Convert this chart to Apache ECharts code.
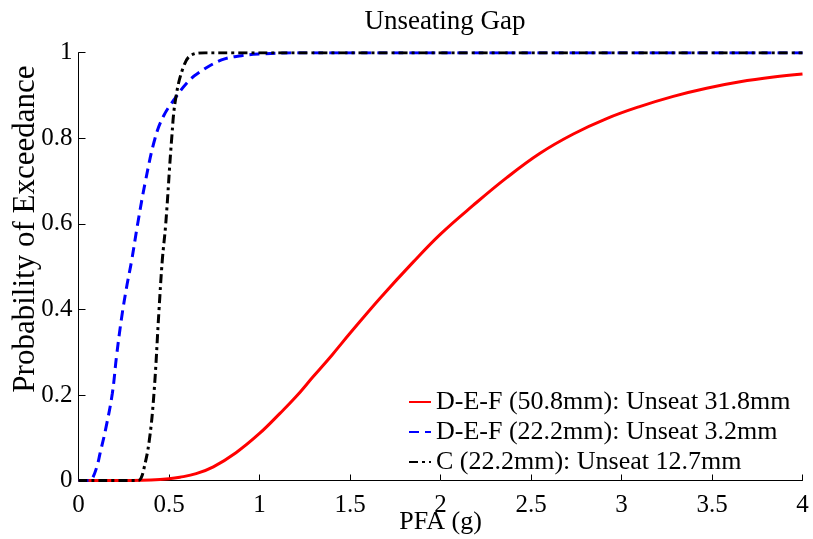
<!DOCTYPE html>
<html>
<head>
<meta charset="utf-8">
<script src="https://cdn.jsdelivr.net/npm/echarts@6/dist/echarts.min.js"></script>
<style>
  html, body { margin: 0; padding: 0; background: #fff; }
  #chart { width: 813px; height: 539px; }
</style>
</head>
<body>
<div id="chart"></div>
<script>
// values: [PFA (g), probability]
const seriesNames = [
  "D-E-F (50.8mm): Unseat 31.8mm",
  "D-E-F (22.2mm): Unseat 3.2mm",
  "C (22.2mm): Unseat 12.7mm",
];
const redPoints = [
  [0, 0], [0.3, 0], [0.4, 0.001], [0.5, 0.004], [0.56, 0.0075], [0.65, 0.016],
  [0.745, 0.032], [0.87, 0.065], [1.0, 0.11], [1.113, 0.157], [1.2, 0.195],
  [1.297, 0.243], [1.4, 0.293], [1.5, 0.344], [1.666, 0.426], [1.85, 0.511],
  [2.0, 0.576], [2.18, 0.643], [2.366, 0.708], [2.55, 0.765], [2.734, 0.81],
  [2.918, 0.846], [3.1, 0.874], [3.286, 0.898], [3.47, 0.917], [3.655, 0.932],
  [3.84, 0.943], [4.0, 0.95],
];
const bluePoints = [
  [0, 0], [0.06, 0], [0.073, 0.002], [0.1, 0.03], [0.12, 0.065], [0.15, 0.12],
  [0.187, 0.204], [0.21, 0.29], [0.238, 0.38], [0.265, 0.45], [0.294, 0.515],
  [0.327, 0.6], [0.37, 0.7], [0.423, 0.8], [0.47, 0.852], [0.533, 0.893],
  [0.6, 0.93], [0.66, 0.952], [0.79, 0.983], [0.9, 0.993], [1.0, 0.997],
  [1.2, 1], [4.0, 1],
];
const blackPoints = [
  [0, 0], [0.33, 0], [0.345, 0.005], [0.36, 0.025], [0.39, 0.09],
  [0.417, 0.204], [0.445, 0.4], [0.463, 0.515], [0.482, 0.6], [0.515, 0.8],
  [0.537, 0.893], [0.58, 0.967], [0.625, 0.995], [0.7, 1], [4.0, 1],
];
const xTicks = ["0", "0.5", "1", "1.5", "2", "2.5", "3", "3.5", "4"];
const yTicks = ["0", "0.2", "0.4", "0.6", "0.8", "1"];

const font = "'Liberation Serif', 'Times New Roman', serif";

function lineSeries(name, data, color, type) {
  return {
    name: name,
    type: "line",
    data: data,
    smooth: 0.4,
    symbol: "none",
    lineStyle: { color: color, width: 3, type: type },
    itemStyle: { color: color },
  };
}

const chart = echarts.init(document.getElementById("chart"));
chart.setOption({
  animation: false,
  textStyle: { fontFamily: font },
  title: {
    text: "Unseating Gap",
    left: 440,
    textAlign: "center",
    top: 3,
    textStyle: { fontFamily: font, fontSize: 27, fontWeight: "normal", color: "#000" },
  },
  grid: { left: 78.5, right: 10.5, top: 52.7, bottom: 58.5, outerBoundsMode: "none" },
  legend: {
    orient: "vertical",
    left: 408,
    top: 389,
    padding: 0,
    itemWidth: 22,
    itemHeight: 14,
    itemGap: 4,
    itemStyle: { opacity: 0, borderWidth: 0 },
    textStyle: { fontFamily: font, fontSize: 26, color: "#000", lineHeight: 26 },
    data: seriesNames,
  },
  xAxis: {
    type: "value",
    min: 0,
    max: 4,
    interval: 0.5,
    name: "PFA (g)",
    nameLocation: "middle",
    nameGap: 29,
    nameMoveOverlap: false,
    nameTextStyle: { fontFamily: font, fontSize: 26, color: "#000" },
    axisLine: { lineStyle: { color: "#000", width: 1 } },
    axisTick: { inside: true, length: 6, lineStyle: { color: "#000" } },
    axisLabel: {
      fontFamily: font, fontSize: 25, color: "#000", margin: 12,
      formatter: (v) => xTicks[Math.round(v / 0.5)],
    },
    splitLine: { show: false },
  },
  yAxis: {
    type: "value",
    min: 0,
    max: 1,
    interval: 0.2,
    name: "Probability of Exceedance",
    nameLocation: "middle",
    nameGap: 37,
    nameMoveOverlap: false,
    nameTextStyle: { fontFamily: font, fontSize: 31, color: "#000", padding: [0, 0, 0, 75] },
    axisLine: { show: true, lineStyle: { color: "#000", width: 1 } },
    axisTick: { show: true, inside: true, length: 7, lineStyle: { color: "#000" } },
    axisLabel: {
      fontFamily: font, fontSize: 25, color: "#000", margin: 6,
      formatter: (v) => yTicks[Math.round(v / 0.2)],
    },
    splitLine: { show: false },
  },
  series: [
    lineSeries(seriesNames[0], redPoints, "#ff0000", "solid"),
    lineSeries(seriesNames[1], bluePoints, "#0000ff", [10, 6]),
    lineSeries(seriesNames[2], blackPoints, "#000000", [9, 4, 3, 4]),
  ],
});
</script>
</body>
</html>
